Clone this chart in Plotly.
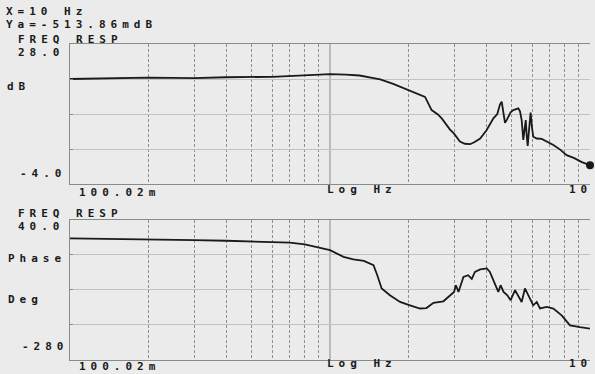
import plotly.graph_objects as go

# ---- Data ----
mag_freq = [0.1, 0.2, 0.3, 0.4, 0.6, 0.8, 1.0, 1.15, 1.3, 1.47, 1.56, 1.75, 2.0, 2.2, 2.32,
            2.46, 2.6, 2.69, 2.89, 3.0, 3.16, 3.3, 3.46, 3.6, 3.78, 4.0, 4.25, 4.4, 4.507,
            4.575, 4.65, 4.71, 4.78, 4.85, 4.95, 5.07, 5.2, 5.3, 5.38, 5.46, 5.54, 5.6,
            5.66, 5.71, 5.76, 5.82, 5.91, 5.98, 6.05, 6.24, 6.52, 7.23, 7.7, 8.13, 8.7,
            9.3, 10.0]
mag_db = [20.0, 20.3, 20.2, 20.4, 20.5, 20.9, 21.1, 21.0, 20.8, 20.2, 19.9, 18.9, 17.5, 16.6,
          15.9, 12.9, 11.9, 11.0, 8.5, 7.5, 5.7, 5.2, 5.1, 5.6, 6.4, 8.3, 11.0, 12.0, 14.2,
          14.8, 12.5, 10.0, 10.6, 11.4, 12.4, 12.9, 13.2, 13.3, 12.6, 10.6, 6.1, 8.5,
          10.6, 7.0, 4.7, 8.0, 12.3, 9.0, 6.8, 6.4, 6.3, 4.9, 3.8, 2.6, 1.9, 1.0, 0.3]

ph_freq = [0.1, 0.2, 0.3, 0.4, 0.6, 0.7, 0.8, 0.89, 1.0, 1.127, 1.23, 1.35, 1.47, 1.52, 1.58,
           1.70, 1.86, 2.03, 2.22, 2.35, 2.5, 2.73, 2.89, 3.0, 3.05, 3.12, 3.26, 3.4, 3.51,
           3.61, 3.78, 4.01, 4.12, 4.31, 4.44, 4.53, 4.65, 4.81, 4.95, 5.15, 5.3, 5.46,
           5.62, 5.79, 6.05, 6.24, 6.42, 6.82, 7.23, 7.78, 8.38, 9.15, 10.0]
ph_deg = [-2.2, -3.7, -6.0, -7.6, -10.0, -12.0, -16.0, -23.0, -29.0, -44.5, -50.5, -53.7,
          -63.6, -86.6, -117.0, -132.7, -148.0, -155.7, -163.0, -162.0, -150.0, -146.5,
          -132.7, -125.0, -109.6, -125.0, -90.5, -86.6, -95.0, -79.0, -73.5, -71.2, -79.0,
          -109.6, -125.0, -109.6, -125.0, -132.7, -144.0, -121.0, -136.0, -148.0, -117.0,
          -132.7, -155.7, -148.0, -163.0, -159.5, -163.0, -178.7, -201.7, -205.6, -209.0]

marker_freq = [10.0]
marker_db = [0.3]

grid_freqs = [0.2, 0.3, 0.4, 0.5, 0.6, 0.7, 0.8, 0.9, 2, 3, 4, 5, 6, 7, 8, 9, 10]
mag_grid = [4, 12, 20]
ph_grid = [-200, -120, -40]

W, H = 595, 374
BG = "#ebebeb"
INK = "#1a1a1a"
FONT = "DejaVu Sans Mono"

fig = go.Figure()
fig.add_trace(go.Scatter(x=mag_freq, y=mag_db, mode="lines",
                         line=dict(color=INK, width=1.8), xaxis="x", yaxis="y",
                         showlegend=False, hoverinfo="skip"))
fig.add_trace(go.Scatter(x=marker_freq, y=marker_db, mode="markers",
                         marker=dict(color=INK, size=8, symbol="circle"),
                         xaxis="x", yaxis="y", showlegend=False, cliponaxis=False,
                         hoverinfo="skip"))
fig.add_trace(go.Scatter(x=ph_freq, y=ph_deg, mode="lines",
                         line=dict(color=INK, width=1.8), xaxis="x2", yaxis="y2",
                         showlegend=False, hoverinfo="skip"))

xdom = [70 / W, 590 / W]
def xax(anchor):
    return dict(type="log", range=[-1, 1], domain=xdom, anchor=anchor,
                tickvals=grid_freqs, showticklabels=False, ticks="",
                showgrid=True, gridcolor="#8f8f8f", gridwidth=1, griddash="3px,2px",
                showline=True, linecolor="#8a8a8a", linewidth=1, mirror=True,
                zeroline=False, fixedrange=True)

def yax(anchor, rng, vals, dom):
    return dict(range=rng, domain=dom, anchor=anchor, tickvals=vals,
                showticklabels=False, ticks="inside", ticklen=3, tickcolor="#8a8a8a",
                showgrid=True, gridcolor="#c2c2c2", gridwidth=1,
                showline=True, linecolor="#8a8a8a", linewidth=1, mirror=False,
                zeroline=False, fixedrange=True)

fig.update_layout(
    width=W, height=H, margin=dict(l=0, r=0, t=0, b=0),
    paper_bgcolor=BG, plot_bgcolor=BG, hovermode=False,
    xaxis=xax("y"),
    yaxis=yax("x", [-4, 28], mag_grid, [1 - 184 / H, 1 - 44 / H]),
    xaxis2=xax("y2"),
    yaxis2=yax("x2", [-280, 40], ph_grid, [1 - 359.5 / H, 1 - 220 / H]),
)

# solid decade line at 1 Hz
for xr, yr in (("x", "y domain"), ("x2", "y2 domain")):
    fig.add_shape(type="line", xref=xr, yref=yr, x0=1, x1=1, y0=0, y1=1,
                  line=dict(color="#8a8a8a", width=1), layer="below")

def txt(s, px, py, size=11):
    fig.add_annotation(text=s, x=px / W, y=1 - py / H, xref="paper", yref="paper",
                       xanchor="left", yanchor="middle", align="left", showarrow=False,
                       borderpad=0,
                       font=dict(family=FONT, size=size, color=INK, weight="bold"))

txt("X=10 Hz<br>Ya=-513.86mdB", 5, 19)
txt("FREQ RESP<br>28.0", 17, 46)
txt("dB", 6, 86)
txt("-4.0", 19, 173)
txt("100.02m", 78, 192)
txt("Log Hz", 326, 189)
txt("10", 568, 189)

txt("FREQ RESP<br>40.0", 17, 220)
txt("Phase", 7, 258)
txt("Deg", 7, 299)
txt("-280", 21, 346)
txt("100.02m", 78, 366)
txt("Log Hz", 326, 363)
txt("10", 568, 363)

post = """
document.body.style.margin = '0';
document.body.style.overflow = 'hidden';
document.querySelectorAll('.annotation-text').forEach(function (t) {
    t.style.letterSpacing = '5px';
});
document.querySelectorAll('.annotation-text tspan.line').forEach(function (t) {
    var dy = parseFloat(t.getAttribute('dy') || '0');
    if (dy) { t.setAttribute('dy', (dy * 1.22 / 1.3) + 'em'); }
});
"""

fig.write_html("out.html", post_script=post, config={"displayModeBar": False})
